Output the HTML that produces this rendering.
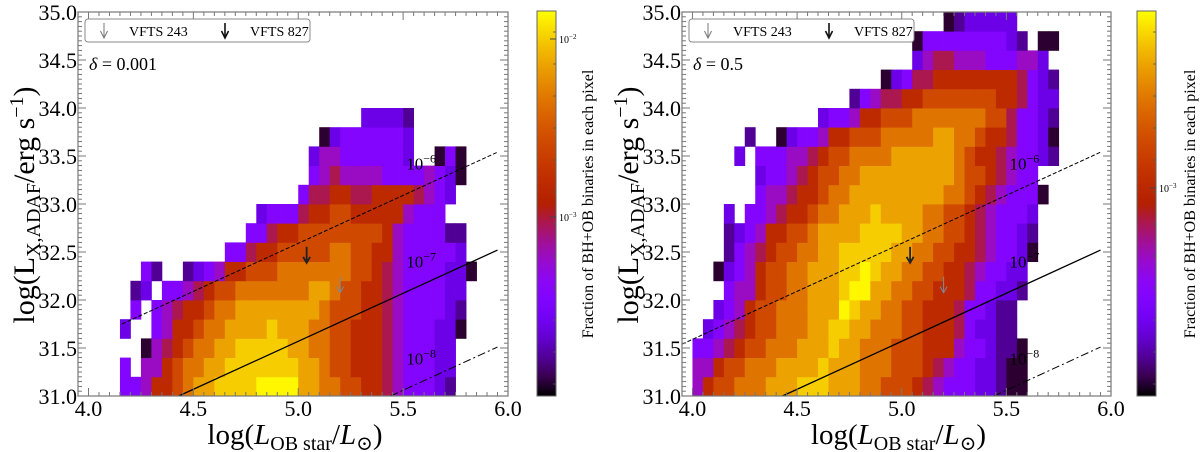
<!DOCTYPE html>
<html><head><meta charset="utf-8">
<style>
html,body{margin:0;padding:0;background:#fff;}
svg{display:block;font-family:"Liberation Serif","DejaVu Serif",serif;}
</style></head>
<body>
<svg id="chart" width="1200" height="452" viewBox="0 0 1200 452" xmlns="http://www.w3.org/2000/svg">
<defs>
<linearGradient id="cbgrad" x1="0" y1="1" x2="0" y2="0"></linearGradient>
</defs>
</svg>
<script>
// ---- data ----
// Heatmap level codes per row (bottom row = log Lx 31.0-31.2), columns 0.05 dex wide
var leftColStart = 4.15;
var rightColStart = 4.0;
var rowStart = 31.0;
var colStep = 0.05;
var rowStep = 0.2;
var leftRows = [
"3346678"+"99aaaa"+"bbbb"+"9988"+"7766"+"54333"+"21",
"3 446788"+"99"+"aaaaaaa"+"998"+"77666"+"54"+"333"+"22",
"  04567"+"88"+"99"+"aaaaa"+"9988"+"77"+"666"+"54"+"333"+"22",
"2  3466"+"788"+"9999"+"a"+"999"+"88"+"77"+"666"+"54"+"333"+"22"+"0",
" 3 3456"+"6788"+"99999999"+"8"+"777"+"66"+"54"+"3333"+"21",
" 12 334"+"5677"+"8888888"+"99"+"8"+"77"+"66"+"54"+"3333"+"22",
"  31  1"+"23466777"+"8888888"+"77"+"6"+"54"+"3333"+"220",
"          "+"33566"+"77777"+"88"+"77"+"66"+"4"+"33333"+"2",
"            "+"33"+"5"+"66"+"77777777"+"6"+"4"+"3333"+"11",
"             "+"2333"+"5"+"66"+"77"+"66666"+"4"+"333",
"                 "+"3"+"55"+"66"+"55"+"6666"+"5"+"4"+"3"+"2",
"                  "+"3"+"45"+"4444"+"3333"+"4"+"3"+"2"+"0",
"                  "+"2"+"44"+"333333"+"2"+"  "+"0"+"3"+"0",
"                   "+"0"+"2"+"333333"+"2",
"                       "+"2222"+"1"
];
var rightRows = [
"4677888"+"999"+"aaa"+"999"+"88"+"777"+"654"+"333"+"22"+"100",
"44677888"+"9999"+"a"+"999"+"888"+"777"+"654"+"33"+"22"+"100",
"3345677"+"888"+"999"+"a"+"99"+"888"+"777"+"666"+"4"+"33"+"2"+"110",
" 23456"+"77"+"888"+"99"+"aa"+"99"+"888"+"77"+"666"+"5"+"3"+"22"+"11",
"  2346"+"77"+"888"+"999"+"ba"+"99"+"88"+"77"+"666"+"5"+"33"+"2"+"11",
"   3446"+"77"+"88"+"999"+"abb"+"99"+"88"+"77"+"666"+"5"+"33"+"22"+"1",
"  023467"+"7"+"88"+"999"+"aaba"+"99"+"88"+"77"+"66"+"54"+"33"+"22",
"   134567"+"7"+"88"+"99"+"aaaaa"+"99"+"88"+"77"+"66"+"54"+"33"+"20",
"   12346677"+"8"+"9999"+"aaaa"+"99"+"88"+"77"+"654"+"33"+"21",
"   2 334566"+"7"+"88"+"999"+"a"+"9999"+"88"+"77"+"654"+"333"+"2",
"      3445667"+"88"+"999999999"+"88"+"7654"+"333"+"0",
"      2334567788"+"999999999"+"8776543"+"3",
"    2 "+"333"+"44"+"5"+"6"+"77"+"8888"+"999999"+"8"+"7"+"66"+"5"+"4"+"33"+"2"+"1",
"     1  0233466"+"777"+"88888"+"99"+"88"+"7"+"66"+"5"+"33"+"2"+"0",
"            2334667"+"77"+"8888888"+"77"+"5"+"33"+"2"+"1",
"               1345566"+"7777777"+"66"+"5"+"3"+"22",
"                  02355"+"66666666"+"5321",
"                     "+"2455444333442",
"                     "+"0"+"33333333"+"21"+" "+"00",
"                        "+"0122222"
];
// Bondi-scale lines: log Lx = log L_OB + offset
var lineOffsets = [27.59, 26.57, 25.56];
var lineLabels = ["−6", "−7", "−8"];
// Source upper limits [log L_OB, log Lx]
var vfts243 = [5.20, 32.16];
var vfts827 = [5.04, 32.47];
var xTicks = [4.0, 4.5, 5.0, 5.5, 6.0];
var yTicks = [31.0, 31.5, 32.0, 32.5, 33.0, 33.5, 34.0, 34.5, 35.0];
var panelDeltas = ["0.001", "0.5"];

// ---- drawing ----
var NS = "http://www.w3.org/2000/svg";
var svg = document.getElementById('chart');
function mk(tag, attrs, parent){
  var e = document.createElementNS(NS, tag);
  for (var k in attrs) e.setAttribute(k, attrs[k]);
  (parent||svg).appendChild(e);
  return e;
}
function gnu(t){
  var r = Math.sqrt(t), g = t*t*t, b = Math.sin(2*Math.PI*t);
  b = Math.max(0, b);
  return 'rgb(' + Math.round(r*255) + ',' + Math.round(g*255) + ',' + Math.round(b*255) + ')';
}
var levels = {'0':0.03,'1':0.1,'2':0.18,'3':0.265,'4':0.36,'5':0.45,'6':0.55,'7':0.66,'8':0.77,'9':0.86,'a':0.93,'b':0.99};

var grad = document.getElementById('cbgrad');
for (var i = 0; i <= 20; i++) {
  var st = document.createElementNS(NS, 'stop');
  st.setAttribute('offset', (i/20));
  st.setAttribute('stop-color', gnu(i/20));
  grad.appendChild(st);
}

var panels = [
  {x0: 78, x1: 508, rows: leftRows, colStart: leftColStart, cb: 537, cbLabel: 588, cbTicks: [["10", "−2", 39], ["10", "−3", 217]], dashStart: 4.16, name: 'left'},
  {x0: 682, x1: 1111, rows: rightRows, colStart: rightColStart, cb: 1137, cbLabel: 1190, cbTicks: [["10", "−3", 188]], dashStart: 3.95, name: 'right'}
];
var yTop = 12, yBot = 396, xMin = 3.95, xMax = 6.0, yMin = 31, yMax = 35;

panels.forEach(function(p, pi){
  var g = mk('g', {});
  
  
  function X(v){ return p.x0 + (v - xMin) * (p.x1 - p.x0) / (xMax - xMin); }
  function Y(v){ return yBot - (v - yMin) * (yBot - yTop) / (yMax - yMin); }
  var hm = mk('g', {}, g);
  
  
  p.rows.forEach(function(row, r){
    for (var c = 0; c < row.length; c++) {
      var ch = row[c];
      if (ch === ' ') continue;
      var xa = X(p.colStart + c*colStep), xb = X(p.colStart + (c+1)*colStep);
      var ya = Y(rowStart + (r+1)*rowStep), yb = Y(rowStart + r*rowStep);
      if (ya < yTop) ya = yTop;
      var cell = mk('rect', {x: xa.toFixed(2), y: ya.toFixed(2), width: (xb-xa+0.4).toFixed(2), height: (yb-ya+0.4).toFixed(2), fill: gnu(levels[ch])}, hm);
      
      
    }
  });
  var dashes = ['4,2', 'none', '8,3,2,3'];
  lineOffsets.forEach(function(off, i){
    var xs = (i === 0) ? p.dashStart : Math.max(xMin, yMin - off);
    var xe = 5.95;
    var ln = mk('line', {x1: X(xs), y1: Y(xs + off), x2: X(xe), y2: Y(xe + off), stroke: '#000', 'stroke-width': i === 1 ? 1.3 : 1, 'stroke-dasharray': dashes[i]}, g);
    
    
    var t = mk('text', {x: X(5.515), y: Y(5.56 + off) - 20, 'font-size': 17}, g);
    
    
    t.textContent = '10';
    var sp = mk('tspan', {dy: -7, 'font-size': 12}, t);
    sp.textContent = lineLabels[i];
  });
  function arrow(pt, color, w, nm){
    var ax = X(pt[0]), ay = Y(pt[1]);
    var a = mk('g', {}, g);
    
    
    mk('line', {x1: ax, y1: ay - 8, x2: ax, y2: ay + 7, stroke: color, 'stroke-width': w}, a);
    mk('polyline', {points: (ax-3.5)+','+(ay+2)+' '+ax+','+(ay+8)+' '+(ax+3.5)+','+(ay+2), fill: 'none', stroke: color, 'stroke-width': w}, a);
  }
  arrow(vfts243, '#7a8a9a', 1, 'vfts243-arrow');
  arrow(vfts827, '#222', 1.8, 'vfts827-arrow');
  var fr = mk('rect', {x: p.x0, y: yTop, width: p.x1 - p.x0, height: yBot - yTop, fill: 'none', stroke: '#777', 'stroke-width': 1.2}, g);
  
  
  var tk = mk('g', {stroke: '#777', 'stroke-width': 1}, g);
  
  
  for (var v = 4.0; v <= 6.0001; v += 0.05) {
    var xx = X(v), maj = Math.abs(v*2 - Math.round(v*2)) < 1e-6, L = maj ? 8 : 4;
    mk('line', {x1: xx, y1: yBot, x2: xx, y2: yBot - L}, tk);
    mk('line', {x1: xx, y1: yTop, x2: xx, y2: yTop + L}, tk);
  }
  for (var v = 31.0; v <= 35.0001; v += 0.05) {
    var yy = Y(v), maj = Math.abs(v*2 - Math.round(v*2)) < 1e-6, L = maj ? 8 : 4;
    mk('line', {x1: p.x0, y1: yy, x2: p.x0 + L, y2: yy}, tk);
    mk('line', {x1: p.x1, y1: yy, x2: p.x1 - L, y2: yy}, tk);
  }
  xTicks.forEach(function(v){
    var t = mk('text', {x: X(v), y: 416, 'font-size': 22, 'text-anchor': 'middle'}, g);
    
    
    t.textContent = v.toFixed(1);
  });
  yTicks.forEach(function(v){
    var t = mk('text', {x: p.x0 - 1, y: Y(v) + 8, 'font-size': 22, 'text-anchor': 'end'}, g);
    
    
    t.textContent = v.toFixed(1);
  });
  var xt = mk('text', {x: (p.x0 + p.x1)/2 + 2, y: 444, 'font-size': 29, 'text-anchor': 'middle'}, g);
  
  
  xt.innerHTML = 'log(<tspan font-style="italic">L</tspan><tspan font-size="20" dy="6">OB star</tspan><tspan dy="-6">/</tspan><tspan font-style="italic">L</tspan><tspan font-size="20" dy="6">⊙</tspan><tspan dy="-6">)</tspan>';
  var yt = mk('text', {x: 0, y: 0, 'font-size': 30, 'text-anchor': 'middle', transform: 'translate(' + (p.x0 - 44) + ',205) rotate(-90)'}, g);
  
  
  yt.innerHTML = 'log(L<tspan font-size="20" dy="6">X,ADAF</tspan><tspan dy="-6">/erg s</tspan><tspan font-size="20" dy="-11">−1</tspan><tspan dy="11">)</tspan>';
  var lg = mk('g', {}, g);
  
  
  mk('rect', {x: p.x0 + 7, y: 19, width: 225, height: 23, rx: 3, fill: '#fff', stroke: '#888', 'stroke-width': 1}, lg);
  function lgArrow(x, color, w){
    mk('line', {x1: x, y1: 23, x2: x, y2: 37, stroke: color, 'stroke-width': w}, lg);
    mk('polyline', {points: (x-3.5)+',31 '+x+',38 '+(x+3.5)+',31', fill: 'none', stroke: color, 'stroke-width': w}, lg);
  }
  lgArrow(p.x0 + 26, '#777', 1);
  lgArrow(p.x0 + 147, '#111', 1.6);
  var l1 = mk('text', {x: p.x0 + 51, y: 36, 'font-size': 14}, lg);
  
  
  l1.textContent = 'VFTS 243';
  var l2 = mk('text', {x: p.x0 + 172, y: 36, 'font-size': 14}, lg);
  
  
  l2.textContent = 'VFTS 827';
  var dt = mk('text', {x: p.x0 + 11, y: 70, 'font-size': 18}, g);
  
  
  dt.innerHTML = '<tspan font-style="italic">δ</tspan> = ' + panelDeltas[pi];
  var cb = mk('g', {}, g);
  
  
  mk('rect', {x: p.cb, y: yTop - 1, width: 19, height: yBot - yTop + 1, fill: 'url(#cbgrad)', stroke: '#666', 'stroke-width': 1}, cb);
  for (var k = 0; k < 12; k++) {
    var ty = yTop + 20 + k*32;
    mk('line', {x1: p.cb + 19, y1: ty, x2: p.cb + 16, y2: ty, stroke: '#555', 'stroke-width': 0.8}, cb);
  }
  p.cbTicks.forEach(function(tc){
    mk('line', {x1: p.cb + 19, y1: tc[2], x2: p.cb + 13, y2: tc[2], stroke: '#444', 'stroke-width': 1}, cb);
    var t = mk('text', {x: p.cb + 22, y: tc[2] + 4, 'font-size': 10}, cb);
    
    
    t.innerHTML = tc[0] + '<tspan dy="-4" font-size="7">' + tc[1] + '</tspan>';
  });
  var cl = mk('text', {x: 0, y: 0, 'font-size': 16, 'text-anchor': 'middle', transform: 'translate(' + (p.cbLabel + 5) + ',204) rotate(-90)'}, cb);
  
  
  cl.textContent = 'Fraction of BH+OB binaries in each pixel';
});
</script>
</body></html>
